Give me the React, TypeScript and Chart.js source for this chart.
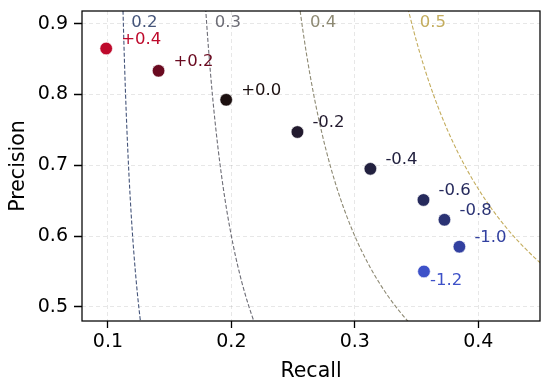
import React, { useEffect, useRef } from "react";
import { Chart, registerables } from "chart.js";

Chart.register(...registerables);

// ---- data ----
const pointLabels = ["+0.4", "+0.2", "+0.0", "-0.2", "-0.4", "-0.6", "-0.8", "-1.0", "-1.2"];
const recallValues = [0.0986, 0.141, 0.1958, 0.2535, 0.3126, 0.3556, 0.3726, 0.3847, 0.356];
const precisionValues = [0.865, 0.8335, 0.7925, 0.747, 0.695, 0.651, 0.623, 0.585, 0.55];
const pointColors = [
  "#be0a2c",
  "#6a0a20",
  "#1c1010",
  "#221a2e",
  "#22213f",
  "#262a5c",
  "#2b3374",
  "#3240a0",
  "#3d51c8",
];
const fScores = [0.2, 0.3, 0.4, 0.5];
const fColors = ["#45557a", "#6d6d76", "#8e8a74", "#c4ad5e"];
const xTicks = [0.1, 0.2, 0.3, 0.4];
const yTicks = [0.5, 0.6, 0.7, 0.8, 0.9];

const X_MIN = 0.079;
const X_MAX = 0.45;
const Y_MIN = 0.48;
const Y_MAX = 0.918;
const FONT = "'DejaVu Sans', sans-serif";

function isoCurve(f: number) {
  const pts: { x: number; y: number }[] = [];
  for (let p = 0.3; p <= 1.2001; p += 0.005) {
    pts.push({ x: (f * p) / (2 * p - f), y: p });
  }
  return pts;
}

const labelPlugin = {
  id: "labels",
  afterDatasetsDraw(chart: any) {
    const { ctx, chartArea, scales } = chart;
    const xs = scales.x;
    const ys = scales.y;
    ctx.save();
    // iso-F labels
    ctx.font = `16.5px ${FONT}`;
    ctx.textAlign = "left";
    ctx.textBaseline = "middle";
    fScores.forEach((f, i) => {
      const p = 0.9;
      const r = (f * p) / (2 * p - f);
      ctx.fillStyle = fColors[i];
      ctx.fillText(f.toFixed(1), xs.getPixelForValue(r) + 8, ys.getPixelForValue(p) - 1);
    });
    // point labels
    pointLabels.forEach((t, i) => {
      const px = xs.getPixelForValue(recallValues[i]);
      const py = ys.getPixelForValue(precisionValues[i]);
      ctx.fillStyle = pointColors[i];
      const below = i === pointLabels.length - 1;
      ctx.fillText(t, px + (below ? 6 : 15), py + (below ? 9 : -9));
    });
    // frame
    ctx.strokeStyle = "#000";
    ctx.lineWidth = 1.25;
    ctx.strokeRect(chartArea.left, chartArea.top, chartArea.right - chartArea.left, chartArea.bottom - chartArea.top);
    ctx.restore();
  },
};

export default function App() {
  const ref = useRef<HTMLCanvasElement | null>(null);
  useEffect(() => {
    if (!ref.current) return;
    const datasets: any[] = [
      {
        type: "scatter",
        label: "points",
        data: recallValues.map((r, i) => ({ x: r, y: precisionValues[i] })),
        backgroundColor: pointColors,
        borderColor: "#ffffff",
        borderWidth: 0.6,
        pointRadius: 6.3,
        order: 0,
      },
      ...fScores.map((f, i) => ({
        type: "scatter",
        label: "F=" + f,
        data: isoCurve(f),
        showLine: true,
        borderColor: fColors[i],
        borderWidth: 1.1,
        borderDash: [4, 2],
        pointRadius: 0,
        fill: false,
        order: 1,
      })),
    ];
    const tickFont = { family: FONT, size: 19 };
    const titleFont = { family: FONT, size: 20.5 };
    const chart = new Chart(ref.current, {
      type: "scatter",
      data: { datasets },
      options: {
        animation: false,
        responsive: false,
        devicePixelRatio: 1,
        layout: { padding: { top: 11, right: 10, left: 0, bottom: 0 } },
        plugins: { legend: { display: false }, tooltip: { enabled: false } },
        scales: {
          x: {
            type: "linear",
            min: X_MIN,
            max: X_MAX,
            afterBuildTicks: (s: any) => {
              s.ticks = xTicks.map((v) => ({ value: v }));
            },
            afterFit: (s: any) => {
              s.height = 69;
              s.paddingLeft = 0;
              s.paddingRight = 0;
            },
            border: { display: false, dash: [4, 3] },
            grid: {
              color: "rgba(0,0,0,0.12)",
              lineWidth: 0.8,
              tickColor: "#000",
              tickLength: 7,
              tickWidth: 1.3,
              tickBorderDash: [1, 0],
            },
            ticks: {
              color: "#000",
              font: tickFont,
              padding: 3,
              maxRotation: 0,
              callback: (v: any) => Number(v).toFixed(1),
            },
            title: { display: true, text: "Recall", color: "#000", font: titleFont, padding: { top: 2, bottom: 6 } },
          },
          y: {
            type: "linear",
            min: Y_MIN,
            max: Y_MAX,
            afterBuildTicks: (s: any) => {
              s.ticks = yTicks.map((v) => ({ value: v }));
            },
            afterFit: (s: any) => {
              s.width = 82;
              s.paddingTop = 0;
              s.paddingBottom = 0;
            },
            border: { display: false, dash: [4, 3] },
            grid: {
              color: "rgba(0,0,0,0.12)",
              lineWidth: 0.8,
              tickColor: "#000",
              tickLength: 8,
              tickWidth: 1.3,
              tickBorderDash: [1, 0],
            },
            ticks: {
              color: "#000",
              font: tickFont,
              padding: 6,
              callback: (v: any) => Number(v).toFixed(1),
            },
            title: { display: true, text: "Precision", color: "#000", font: titleFont, padding: { top: 6, bottom: 2 } },
          },
        },
      } as any,
      plugins: [labelPlugin],
    });
    return () => chart.destroy();
  }, []);
  return (
    <div style={{ position: "absolute", left: 0, top: 0, width: 550, height: 390, background: "#fff" }}>
      <canvas ref={ref} width={550} height={390} style={{ display: "block", width: 550, height: 390 }} />
    </div>
  );
}
